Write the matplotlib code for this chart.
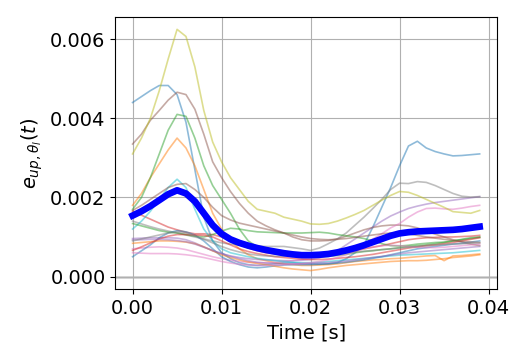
"""Per-run update error e_up over time, with the mean curve on top."""

import matplotlib
matplotlib.use("Agg")
import matplotlib.pyplot as plt
import numpy as np

plt.rcParams.update({
    "font.size": 14,
})

# time axis (s), one sample per ms
time = np.arange(40) * 0.001

# individual runs, values in units of 1e-4
runs = [
    [44, 45.5, 47, 48.3, 48.3, 46, 39, 27, 15, 9,
     6, 4.5, 3.5, 3, 2.8, 3, 3.2, 3.5, 3.5, 3.3,
     3.2, 3.1, 3.2, 3.5, 4.5, 6, 8, 12.5, 17.5, 22.5,
     28, 33, 34.2, 32.5, 31.6, 31, 30.5, 30.6, 30.8, 31],
    [18, 21, 25, 28.5, 32, 35, 32.5, 28, 22, 16,
     12, 9, 7, 5.5, 4.5, 4, 3.5, 3.2, 3, 2.8,
     2.8, 2.9, 3, 3.2, 3.5, 3.8, 4, 4.2, 4.3, 4.5,
     4.6, 4.8, 5, 5.2, 5.3, 4, 5.2, 5.3, 5.5, 5.7],
    [17, 20, 25, 31, 37, 41, 40.5, 35, 28, 23,
     19.5, 16, 12, 9, 7.5, 6.5, 5.8, 5.5, 5.2, 5,
     5, 5, 5.1, 5.3, 5.6, 6, 6.3, 6.5, 6.8, 7,
     7.3, 7.6, 7.8, 8, 8.3, 8.6, 9, 9.4, 9.8, 10],
    [16.5, 15.5, 14.5, 13.5, 12.5, 11.8, 11.2, 10.8, 10.8, 10.6,
     10, 9, 8, 7.2, 6.5, 6, 5.7, 5.5, 5.3, 5.2,
     5.2, 5.3, 5.5, 5.8, 6.2, 6.6, 7, 7.4, 7.8, 8.3,
     8.8, 9.3, 9.6, 9.8, 9.9, 10, 10, 10.1, 10.2, 10.4],
    [9.6, 9.7, 9.8, 9.8, 9.8, 9.7, 9.3, 8.5, 7.5, 6.5,
     5.8, 5.2, 4.8, 4.5, 4.3, 4.2, 4.1, 4, 4, 4.1,
     4.3, 4.7, 5.4, 6.5, 8, 9.5, 11, 12.5, 14, 15.3,
     16.3, 17.2, 17.8, 18.3, 18.7, 19, 19.3, 19.6, 19.9, 20.2],
    [33.5, 36, 39.5, 42, 44.6, 46.6, 46, 42.3, 36, 29,
     25, 21.5, 18.5, 16, 14, 12.8, 11.8, 11, 10, 9.3,
     9, 9, 9.1, 9.5, 10.2, 11, 11.8, 12.4, 12.8, 13,
     13, 12.8, 12.3, 11.5, 10.7, 10, 9.3, 8.7, 8.2, 7.8],
    [7, 7.2, 7.4, 7.5, 7.4, 7.2, 6.8, 6.2, 5.6, 5,
     4.5, 4.1, 3.8, 3.6, 3.5, 3.5, 3.6, 3.8, 4, 4.3,
     4.7, 5.1, 5.6, 6.2, 6.9, 7.6, 8.3, 9.5, 10.8, 12.3,
     13.4, 15, 16.3, 17.2, 17.3, 17.1, 17, 17.3, 17.7, 18],
    [14, 13.3, 12.6, 12, 11.5, 11, 10.5, 10, 9.5, 9,
     8.5, 8.2, 8, 7.8, 7.7, 7.6, 7.6, 7.6, 7.3, 7,
     6.6, 7.2, 8.3, 9.5, 11, 13, 15, 17.2, 19.5, 22,
     23.6, 23.5, 24, 23.8, 23, 22, 21, 20.3, 20.1, 20.2],
    [31, 35, 40, 47, 55, 62.5, 60.7, 53, 42, 34,
     29, 25, 22, 19, 17, 16.5, 16, 15, 14.5, 14,
     13.3, 13.2, 13.4, 14, 14.8, 15.7, 16.7, 18, 19.3, 20.5,
     21.5, 21.3, 20.5, 19.5, 18.5, 17.5, 16.4, 16.2, 16, 16.7],
    [12, 14, 16.5, 19.5, 22.5, 24.6, 22.5, 17, 12, 9,
     7, 6, 5.5, 5, 4.6, 4.3, 4, 3.8, 3.6, 3.5,
     3.5, 3.6, 3.8, 4, 4.2, 4.4, 4.6, 4.8, 5, 5.2,
     5.4, 5.5, 5.6, 5.7, 5.8, 5.9, 6, 6.2, 6.4, 6.6],
    [5, 6.5, 8, 9.8, 11, 11.6, 11.3, 10.5, 9, 7,
     5, 3.8, 3, 2.4, 2.2, 2.4, 2.7, 2.9, 3, 3,
     3, 3.1, 3.2, 3.4, 3.6, 3.9, 4.2, 4.6, 5, 5.5,
     6, 6.5, 7, 7.3, 7.6, 7.9, 8.2, 8.4, 8.7, 9],
    [8.4, 8.6, 8.8, 9, 9, 8.9, 8.7, 8.3, 7.5, 6.5,
     5.5, 4.8, 4.2, 3.7, 3.3, 3, 2.6, 2.2, 1.9, 1.7,
     1.5, 1.8, 2.2, 2.5, 2.8, 3, 3.2, 3.4, 3.6, 3.8,
     3.9, 4, 4, 4.1, 4.3, 4.5, 4.8, 5, 5.2, 5.5],
    [13.4, 12.8, 12.2, 11.6, 11.2, 11, 10.6, 10.2, 10, 10.6,
     11.5, 12.2, 12, 11.6, 11.3, 11.2, 11.1, 11, 11, 11,
     11.1, 11.2, 11, 10.6, 10.3, 10, 9.6, 9, 8.3, 7.8,
     7.7, 7.9, 8.2, 8.4, 8.6, 8.7, 9, 9.3, 9.6, 9.9],
    [6.6, 7.5, 8.5, 9.5, 10.2, 10.6, 10.6, 10.5, 10.4, 10,
     9, 8, 7, 6.3, 5.8, 5.4, 5, 4.8, 4.6, 4.4,
     4.3, 4.3, 4.4, 4.6, 4.8, 5, 5.3, 5.6, 6, 6.4,
     6.8, 7.2, 7.5, 7.8, 8, 8.3, 8.6, 9, 9.4, 9.8],
    [9.3, 9.3, 9.4, 9.4, 9.3, 9.1, 8.8, 8.2, 7.4, 6.6,
     5.8, 5.1, 4.5, 4, 3.6, 3.4, 3.3, 3.2, 3.2, 3.2,
     3.3, 3.4, 3.5, 3.7, 3.9, 4.2, 4.5, 4.8, 5.1, 5.4,
     5.7, 6, 6.2, 6.4, 6.6, 6.8, 7, 7.2, 7.4, 7.6],
    [16.7, 18, 19.5, 21, 22.5, 23.3, 23.5, 22, 20, 17.5,
     15.4, 14.3, 13.5, 13, 12.5, 12, 11.5, 11, 10.5, 10,
     9.6, 9.4, 9.3, 9.4, 9.6, 9.9, 10.2, 10.5, 10.8, 11,
     11, 10.8, 10.4, 10, 9.7, 9.4, 9.1, 8.9, 8.7, 8.6],
    [6, 5.9, 5.8, 5.8, 5.8, 5.7, 5.5, 5.2, 4.8, 4.3,
     3.8, 3.4, 3.1, 2.9, 2.8, 2.8, 2.9, 3, 3.1, 3.3,
     3.5, 3.8, 4.2, 4.8, 5.5, 6.3, 7, 7.5, 7.8, 7.9,
     7.8, 7.6, 7.4, 7.3, 7.3, 7.4, 7.6, 7.8, 8, 8.2],
    [9, 9.5, 10, 10.5, 11, 11.3, 11, 10.3, 9.4, 8.5,
     7.6, 6.8, 6.2, 5.7, 5.4, 5.2, 5.1, 5.1, 5.2, 5.3,
     5.4, 5.5, 5.6, 5.8, 6, 6.2, 6.4, 6.6, 6.8, 7,
     7.2, 7.4, 7.6, 7.8, 8, 8.1, 8.2, 8.3, 8.4, 8.5],
]

# mean over runs (1e-4)
mean_curve = [15.4, 16.5, 17.8, 19.3, 20.8, 21.8, 21.0, 19.0, 16.0, 13.0,
              10.8, 9.4, 8.5, 7.8, 7.2, 6.7, 6.3, 5.9, 5.6, 5.4,
              5.4, 5.5, 5.7, 6.1, 6.6, 7.2, 7.9, 8.7, 9.5, 10.3,
              10.9, 11.2, 11.4, 11.5, 11.6, 11.7, 11.8, 12, 12.3, 12.6]

scale = 1e-4

fig = plt.figure(figsize=(5.31, 3.54), dpi=100)
ax = fig.add_axes([0.217, 0.184, 0.719, 0.768])

ax.axhline(0, color="lightgray", lw=2, zorder=1)
for run in runs:
    ax.plot(time, np.asarray(run) * scale, lw=1.2, alpha=0.5)
ax.plot(time, np.asarray(mean_curve) * scale, color="b", lw=4.8)

ax.grid(True)
ax.set_xlabel("Time [s]")
ax.set_ylabel(r"$e_{up,\theta_l}(t)$")

fig.savefig("out.png")
plt.close(fig)
